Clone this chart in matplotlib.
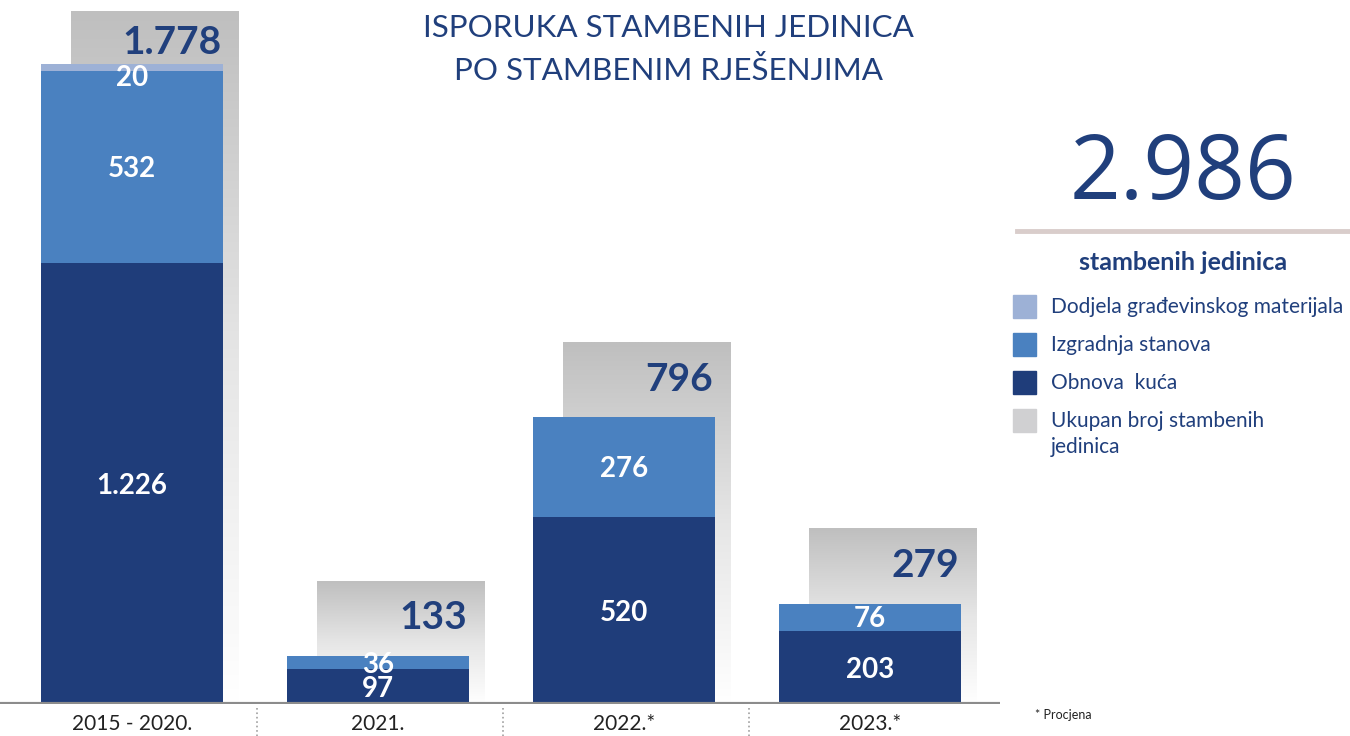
import matplotlib.pyplot as plt
import numpy as np
from matplotlib.patches import Rectangle
from matplotlib.colors import LinearSegmentedColormap

plt.rcParams['font.family'] = ['Lato', 'DejaVu Sans']

categories = ["2015 - 2020.", "2021.", "2022.*", "2023.*"]
obnova = [1226, 97, 520, 203]
izgradnja = [532, 36, 276, 76]
dodjela = [20, 0, 0, 0]

series_names = ["Dodjela građevinskog materijala", "Izgradnja stanova", "Obnova  kuća",
                "Ukupan broj stambenih\njedinica"]

navy = '#1f3d7a'
mid = '#4a81c0'
light = '#9db1d6'
grey = '#d0d0d2'
text_blue = '#203f7c'


def fmt(v):
    return f"{v:,}".replace(",", ".")


totals = np.array(obnova) + np.array(izgradnja) + np.array(dodjela)
grand_total = totals.sum()

fig = plt.figure(figsize=(13.5, 7.36), dpi=100)
# plot area: baseline at y=704px, top clipped at y=11px
ax = fig.add_axes([0, 32 / 736, 1000 / 1350, 693 / 736])
x = np.arange(len(categories))
ytop = 1925

# grey "total" bars sit behind, shifted right and a bit taller
pad = 208
gl, gw = 0.122 - 0.37, 0.68
cmap = LinearSegmentedColormap.from_list('g', ['#ffffff', '#e6e6e6', '#bfbfbf'])
grad = np.linspace(0, 1, 256).reshape(-1, 1)
for xi, t in zip(x, totals):
    h = min(t + pad, ytop)
    ax.imshow(grad, extent=[xi + gl, xi + gl + gw, 0, h], origin='lower',
              aspect='auto', cmap=cmap, zorder=1)
    off = 88 if h == ytop else 102
    ax.text(xi + gl + gw - 0.07, h - off, fmt(t), ha='right', va='center',
            fontsize=28, fontweight='bold', color=text_blue, zorder=4)

w = 0.74
ax.bar(x, obnova, w, color=navy, zorder=2)
ax.bar(x, izgradnja, w, bottom=obnova, color=mid, zorder=2)
b2 = np.array(obnova) + np.array(izgradnja)
ax.bar(x, dodjela, w, bottom=b2, color=light, zorder=2)

for xi, o, iz, d in zip(x, obnova, izgradnja, dodjela):
    ax.text(xi, o / 2 - 8, fmt(o), ha='center', va='center', color='white',
            fontsize=20, fontweight='bold', zorder=3)
    ax.text(xi, o + iz / 2 - 6, fmt(iz), ha='center', va='center', color='white',
            fontsize=20, fontweight='bold', zorder=3)
    if d:
        ax.text(xi, o + iz + d / 2 - 28, fmt(d), ha='center', va='center', color='white',
                fontsize=20, fontweight='bold', zorder=3)

ax.axhline(0, color='#8c8c8c', lw=3, zorder=5)
for s in [0.5, 1.5, 2.5]:
    ax.plot([s + 0.01, s + 0.01], [-0.006, -0.046], transform=ax.get_xaxis_transform(),
            color='#a0a0a0', ls=':', lw=1.2, clip_on=False)

ax.set_xlim(-0.537, 3.53)
ax.set_ylim(0, ytop)
ax.set_xticks(x)
ax.set_xticklabels(categories, fontsize=15, color='#222222')
ax.tick_params(axis='x', length=0, pad=7)
ax.set_yticks([])
for sp in ax.spines.values():
    sp.set_visible(False)

fig.text(0.495, 1 - 28 / 736, "ISPORUKA STAMBENIH JEDINICA", ha='center', va='center',
         fontsize=22.6, color=text_blue)
fig.text(0.495, 1 - 71 / 736, "PO STAMBENIM RJEŠENJIMA", ha='center', va='center',
         fontsize=22.6, color=text_blue)

fig.text(1183 / 1350, 1 - 176 / 736, fmt(grand_total), ha='center', va='center', fontsize=64,
         color=text_blue, family=['Open Sans', 'DejaVu Sans'])
fig.add_artist(plt.Line2D([1017 / 1350, 1], [1 - 231 / 736] * 2, color='#d9cdcb', lw=3.5))
fig.text(1183 / 1350, 1 - 263 / 736, "stambenih jedinica", ha='center', va='center',
         fontsize=18, fontweight='bold', color=text_blue)

# legend drawn by hand
for i, (name, c) in enumerate(zip(series_names, [light, mid, navy, grey])):
    yc = 306 + 38 * i
    fig.add_artist(Rectangle((1013 / 1350, 1 - (yc + 11.5) / 736), 23 / 1350, 23 / 736,
                             color=c, transform=fig.transFigure))
    fig.text(1051 / 1350, 1 - (yc - 9) / 736, name, ha='left', va='top',
             fontsize=15, color=text_blue, linespacing=1.35)

fig.text(1035 / 1350, 1 - 715 / 736, "* Procjena", fontsize=9, color='#222222', va='center')

fig.savefig('out.png', dpi=100)
